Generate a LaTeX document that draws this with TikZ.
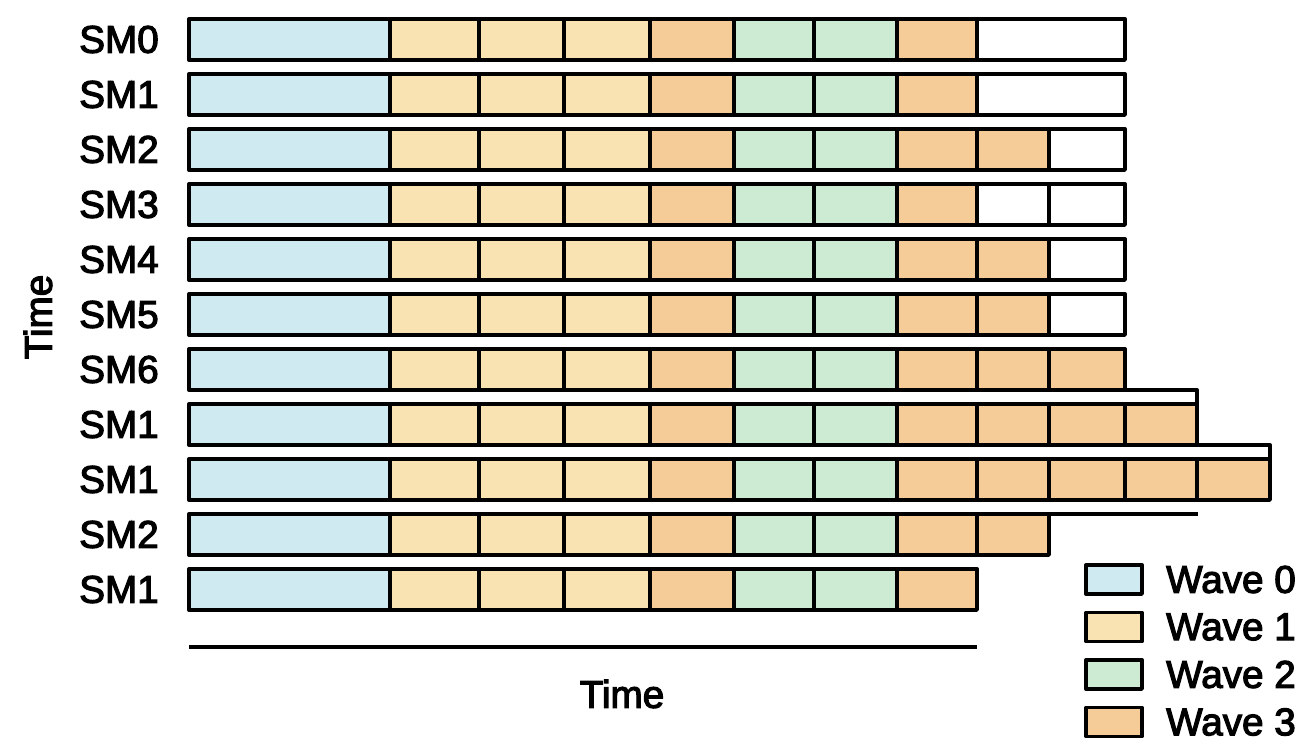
\documentclass[tikz,border=0pt]{standalone}
\usepackage{fontspec}
\setmainfont{Liberation Sans}
\newfontfamily\smfont{Liberation Sans}[FakeBold=3]
\definecolor{wavezero}{HTML}{D0EAF1}
\definecolor{waveone}{HTML}{FAE3B3}
\definecolor{wavetwo}{HTML}{CDEBD3}
\definecolor{wavethree}{HTML}{F5CC97}
\tikzset{
  cell/.style={draw=black, line width=1.9pt, line join=round},
  w0/.style={cell, fill=wavezero},
  w1/.style={cell, fill=waveone},
  w2/.style={cell, fill=wavetwo},
  w3/.style={cell, fill=wavethree},
  wn/.style={cell, fill=white},
  smlabel/.style={font=\smfont\fontsize{22}{26}\selectfont},
  legendbox/.style={cell, minimum width=56*0.02cm, minimum height=29*0.02cm, inner sep=0pt}
}
\begin{document}
\begin{tikzpicture}[x=0.02cm, y=-0.02cm]
      \useasboundingbox (0,0) rectangle (1306,754);
      % rows: same first eight blocks everywhere
      \foreach \r in {0,...,10} {
        \foreach \xe/\st [remember=\xe as \xs (initially 189)] in
          {390/w0,479/w1,564/w1,650/w1,734/w3,814/w2,897/w2,977/w3}
          \draw[\st] (\xs,{19+55*\r}) rectangle (\xe,{60+55*\r});
      }
      % tails
      \draw[wn] (977,19) rectangle (1125,60);
      \draw[wn] (977,74) rectangle (1125,115);
      \draw[w3] (977,129) rectangle (1049,170);
      \draw[wn] (1049,129) rectangle (1125,170);
      \draw[wn] (977,184) rectangle (1049,225);
      \draw[wn] (1049,184) rectangle (1125,225);
      \draw[w3] (977,239) rectangle (1049,280);
      \draw[wn] (1049,239) rectangle (1125,280);
      \draw[w3] (977,294) rectangle (1049,335);
      \draw[wn] (1049,294) rectangle (1125,335);
      \foreach \xs/\xe in {977/1049,1049/1125}
        \draw[w3] (\xs,349) rectangle (\xe,390);
      \foreach \xs/\xe in {977/1049,1049/1125,1125/1197}
        \draw[w3] (\xs,404) rectangle (\xe,445);
      \foreach \xs/\xe in {977/1049,1049/1125,1125/1197,1197/1270}
        \draw[w3] (\xs,459) rectangle (\xe,500);
      \draw[w3] (977,514) rectangle (1049,555);
      % stray edges
      \coordinate (e6a) at (1125,390);
      \coordinate (e6b) at (1197,390);
      \coordinate (e6c) at (1197,404);
      \coordinate (e7a) at (1197,445);
      \coordinate (e7b) at (1270,445);
      \coordinate (e7c) at (1270,459);
      \coordinate (e9a) at (1049,514);
      \coordinate (e9b) at (1198,514);
      \draw[cell] (e6a) -- (e6b) -- (e6c);
      \draw[cell] (e7a) -- (e7b) -- (e7c);
      \draw[cell] (e9a) -- (e9b);
      % labels
      \foreach \r/\lab in {0/SM0,1/SM1,2/SM2,3/SM3,4/SM4,5/SM5,6/SM6,7/SM1,8/SM1,9/SM2,10/SM1}
        \node[smlabel] (sm\r) at (119,{39.5+55*\r}) {\lab};
      % axes
      \coordinate (axisl) at (189,647);
      \coordinate (axisr) at (977,647);
      \draw[line width=2.2pt] (axisl) -- (axisr);
      \node[smlabel] (xtime) at (622,694) {Time};
      \node[smlabel, rotate=90] (ytime) at (38,317) {Time};
      % legend
      \foreach \i/\st in {0/w0,1/w1,2/w2,3/w3} {
        \node[legendbox, \st] (key\i) at (1114,{579.5+47.5*\i}) {};
        \node[smlabel, anchor=west] (lab\i) at (1160,{579.5+47.5*\i}) {Wave \i};
      }
    \end{tikzpicture}
\end{document}
